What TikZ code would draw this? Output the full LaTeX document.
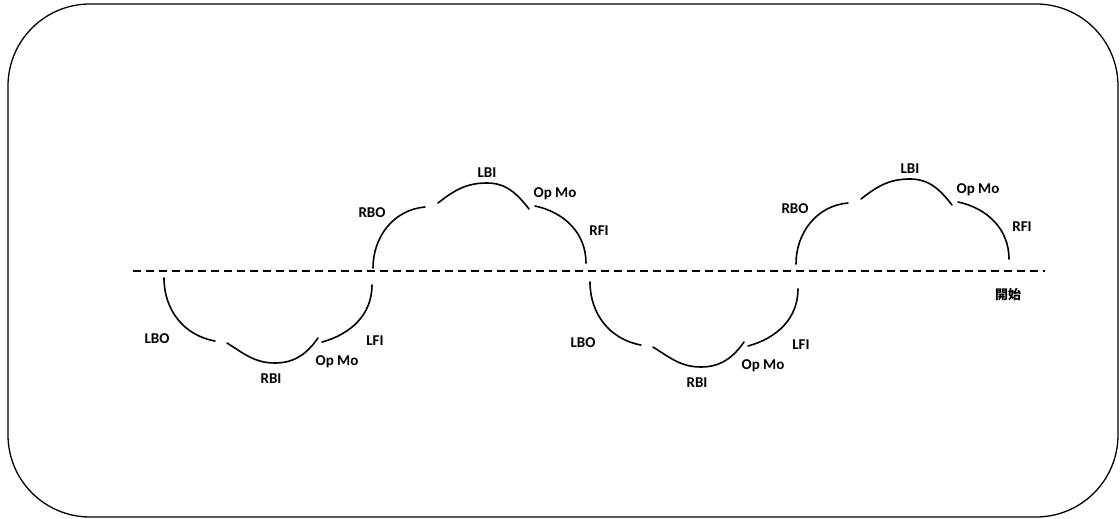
\documentclass[tikz,border=0pt]{standalone}
\usepackage{fontspec}
\setsansfont{Carlito}
\newfontfamily\cjk{Noto Sans CJK TC}
\tikzset{
    x=1pt, y=1pt, % one unit is one pixel of the sketch
    cloud line/.style={line width=1.6pt, line cap=round},
    lbl/.style={font=\sffamily\bfseries\fontsize{15}{17}\selectfont, inner sep=0pt},
    % upper half of a cloud, origin at the foot of its left lobe
    upcloud/.pic={
        \draw[cloud line] (0,0) to[out=90,in=185] (52,61);
        \draw[cloud line] (65,65) to[out=38,in=180] (114,85) to[out=0,in=128] (156,59);
        \draw[cloud line] (162,62) to[out=-12,in=90] (213,5);
        \node[lbl] (-rbo) at (-1,55)   {RBO};
        \node[lbl] (-lbi) at (114,95)  {LBI};
        \node[lbl] (-opmo) at (182,74) {Op Mo};
        \node[lbl] (-rfi) at (226,37)  {RFI};
    },
    % lower half of a cloud, origin at the top of its left lobe
    lowcloud/.pic={
        \draw[cloud line] (0,0) to[out=-90,in=170] (51,-63);
        \draw[cloud line] (63,-65) to[out=-32,in=180] (111,-85) to[out=0,in=-125] (154,-60);
        \draw[cloud line] (158,-64) to[out=15,in=-90] (208,-7);
        \node[lbl] (-lbo) at (-7,-61)   {LBO};
        \node[lbl] (-rbi) at (107,-101) {RBI};
        \node[lbl] (-opmo) at (173,-84) {Op Mo};
        \node[lbl] (-lfi) at (211,-63)  {LFI};
    },
}
\begin{document}
\begin{tikzpicture}
  \useasboundingbox (0,0) rectangle (1120,519);
  % frame
  \draw[line width=1.3pt, rounded corners=82pt] (8,2) rectangle (1118,515);

  % time line
  \coordinate (L0) at (133,248);
  \coordinate (L1) at (1045,248);
  \draw[line width=1.6pt, dash pattern=on 8pt off 5pt] (L0) -- (L1);

  \pic (up1)  at (373,251) {upcloud};
  \pic (low1) at (164,241) {lowcloud};
  \pic (up2)  at (796,255) {upcloud};
  \pic (low2) at (590,237) {lowcloud};

  \node[font=\cjk\bfseries\fontsize{13}{15}\selectfont, inner sep=0pt] (start) at (1008,224) {開始};
\end{tikzpicture}
\end{document}
